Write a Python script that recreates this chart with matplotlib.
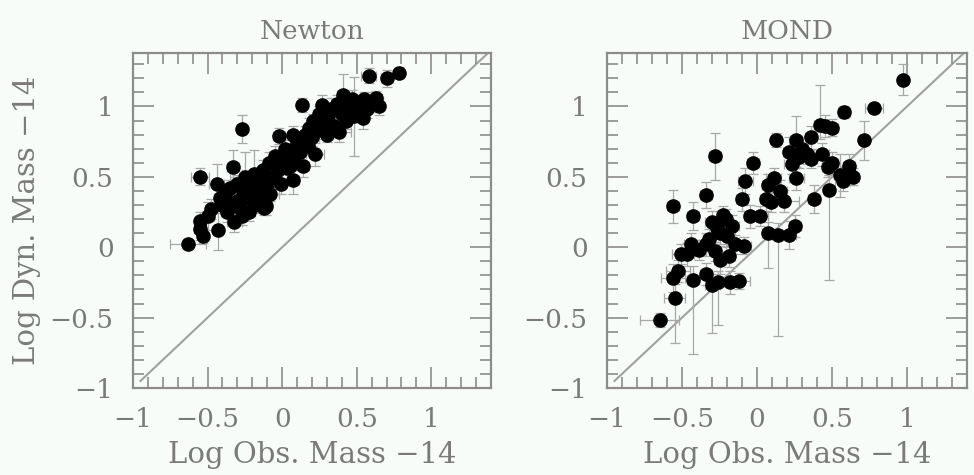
import numpy as np
import matplotlib
matplotlib.use("Agg")
import matplotlib.pyplot as plt
from matplotlib.ticker import MultipleLocator

# ---- data (log masses minus 14) ----
newton_x = [-0.63, -0.55, -0.55, -0.55, -0.53, -0.50, -0.48, -0.44, -0.43, -0.42,
            -0.40, -0.38, -0.37, -0.35, -0.33, -0.32, -0.30, -0.30, -0.28, -0.27,
            -0.26, -0.25, -0.24, -0.22, -0.21, -0.20, -0.19, -0.18, -0.17, -0.15,
            -0.14, -0.13, -0.12, -0.10, -0.09, -0.08, -0.06, -0.05, -0.03, -0.02,
            -0.01, 0.00, 0.02, 0.03, 0.05, 0.07, 0.07, 0.08, 0.10, 0.12,
            0.13, 0.14, 0.15, 0.17, 0.18, 0.20, 0.21, 0.22, 0.24, 0.25,
            0.27, 0.28, 0.30, 0.31, 0.33, 0.35, 0.37, 0.38, 0.40, 0.41,
            0.43, 0.45, 0.47, 0.48, 0.50, 0.52, 0.54, 0.55, 0.57, 0.58,
            0.60, 0.63, 0.65, 0.70, 0.78, -0.11, -0.35, -0.27, -0.16, 0.05]
newton_y = [0.02, 0.50, 0.13, 0.19, 0.08, 0.22, 0.27, 0.45, 0.12, 0.35,
            0.30, 0.38, 0.25, 0.42, 0.57, 0.18, 0.33, 0.45, 0.28, 0.84,
            0.40, 0.50, 0.35, 0.25, 0.45, 0.38, 0.52, 0.30, 0.42, 0.48,
            0.36, 0.55, 0.28, 0.44, 0.60, 0.38, 0.50, 0.65, 0.55, 0.79,
            0.45, 0.62, 0.70, 0.56, 0.67, 0.48, 0.80, 0.62, 0.74, 0.68,
            1.01, 0.58, 0.80, 0.72, 0.85, 0.78, 0.90, 0.66, 0.83, 0.95,
            1.01, 0.88, 0.80, 0.93, 0.98, 0.86, 1.02, 0.82, 0.95, 1.08,
            0.90, 1.00, 1.05, 0.93, 1.02, 0.97, 0.92, 1.05, 0.98, 1.22,
            1.03, 1.06, 1.00, 1.20, 1.24, 0.29, 0.30, 0.22, 0.34, 0.58]
newton_xerr = [0.12, 0.06, 0.04, 0.03, 0.03, 0.04, 0.03, 0.05, 0.03, 0.04,
               0.05, 0.03, 0.04, 0.03, 0.04, 0.05, 0.03, 0.04, 0.03, 0.03,
               0.05, 0.10, 0.03, 0.04, 0.03, 0.04, 0.08, 0.03, 0.04, 0.03,
               0.05, 0.03, 0.04, 0.03, 0.04, 0.06, 0.03, 0.04, 0.03, 0.04,
               0.03, 0.04, 0.03, 0.05, 0.03, 0.04, 0.03, 0.04, 0.03, 0.05,
               0.03, 0.04, 0.03, 0.04, 0.03, 0.05, 0.03, 0.06, 0.03, 0.04,
               0.03, 0.04, 0.03, 0.05, 0.03, 0.04, 0.03, 0.08, 0.03, 0.04,
               0.03, 0.04, 0.03, 0.04, 0.03, 0.04, 0.03, 0.04, 0.03, 0.05,
               0.03, 0.04, 0.03, 0.04, 0.03, 0.04, 0.03, 0.04, 0.03, 0.04]
newton_yerr = [0.03, 0.06, 0.08, 0.06, 0.05, 0.10, 0.07, 0.14, 0.14, 0.08,
               0.06, 0.05, 0.07, 0.06, 0.12, 0.07, 0.05, 0.06, 0.08, 0.10,
               0.06, 0.18, 0.05, 0.06, 0.07, 0.05, 0.17, 0.06, 0.05, 0.08,
               0.06, 0.07, 0.05, 0.06, 0.08, 0.05, 0.06, 0.07, 0.05, 0.06,
               0.07, 0.05, 0.06, 0.08, 0.05, 0.10, 0.06, 0.05, 0.07, 0.06,
               0.05, 0.08, 0.06, 0.05, 0.07, 0.06, 0.05, 0.08, 0.06, 0.05,
               0.07, 0.06, 0.05, 0.06, 0.08, 0.05, 0.06, 0.07, 0.05, 0.15,
               0.06, 0.05, 0.07, 0.28, 0.05, 0.06, 0.08, 0.05, 0.06, 0.05,
               0.07, 0.05, 0.06, 0.06, 0.04, 0.06, 0.05, 0.06, 0.05, 0.06]

mond_x = [0.975, 0.78, 0.58, 0.71, 0.42, 0.45, 0.50, 0.48, 0.14, -0.43,
          -0.30, -0.26, -0.55, -0.65, -0.56, -0.53, -0.34, -0.51, -0.56, -0.43,
          -0.34, -0.28, -0.44, -0.39, -0.34, -0.28, -0.25, -0.21, -0.17, -0.23,
          -0.15, -0.09, -0.19, -0.25, -0.18, -0.12, -0.05, 0.02, -0.10, -0.08,
          -0.03, 0.07, 0.11, 0.06, 0.09, 0.18, 0.125, 0.21, 0.26, 0.36,
          0.23, 0.28, 0.36, 0.43, 0.47, 0.26, 0.38, 0.07, 0.21, 0.25,
          0.55, 0.62, 0.61, 0.57, 0.64, -0.30, -0.27, -0.20, -0.32, -0.47,
          0.15, 0.30, 0.33, 0.50]
mond_y = [1.19, 0.99, 0.96, 0.76, 0.87, 0.86, 0.85, 0.41, 0.09, -0.23,
          -0.27, -0.25, -0.36, -0.52, -0.22, -0.17, -0.19, -0.05, 0.29, 0.22,
          0.37, 0.65, 0.02, -0.02, 0.02, -0.03, 0.10, 0.20, 0.15, 0.23,
          0.02, 0.01, -0.06, -0.09, -0.25, -0.24, 0.22, 0.22, 0.34, 0.47,
          0.60, 0.44, 0.49, 0.34, 0.32, 0.33, 0.76, 0.68, 0.76, 0.78,
          0.59, 0.64, 0.63, 0.66, 0.57, 0.49, 0.34, 0.10, 0.09, 0.15,
          0.51, 0.51, 0.58, 0.47, 0.50, 0.18, 0.14, 0.08, 0.06, -0.05,
          0.40, 0.70, 0.66, 0.60]
mond_xerr = [0.03, 0.06, 0.04, 0.03, 0.04, 0.03, 0.04, 0.03, 0.04, 0.04,
             0.05, 0.04, 0.07, 0.13, 0.08, 0.08, 0.04, 0.06, 0.04, 0.04,
             0.04, 0.04, 0.05, 0.04, 0.05, 0.04, 0.05, 0.04, 0.05, 0.04,
             0.06, 0.05, 0.04, 0.04, 0.04, 0.07, 0.04, 0.05, 0.04, 0.05,
             0.04, 0.04, 0.05, 0.04, 0.04, 0.10, 0.03, 0.04, 0.04, 0.04,
             0.05, 0.04, 0.04, 0.05, 0.04, 0.05, 0.04, 0.04, 0.05, 0.04,
             0.04, 0.04, 0.04, 0.05, 0.04, 0.05, 0.04, 0.05, 0.04, 0.05,
             0.05, 0.04, 0.04, 0.04]
mond_yerr_lo = [0.11, 0.03, 0.04, 0.14, 0.10, 0.08, 0.06, 0.64, 0.72, 0.53,
                0.34, 0.30, 0.32, 0.05, 0.10, 0.08, 0.08, 0.07, 0.12, 0.10,
                0.09, 0.17, 0.08, 0.07, 0.08, 0.07, 0.08, 0.07, 0.08, 0.06,
                0.07, 0.06, 0.08, 0.10, 0.08, 0.06, 0.08, 0.07, 0.08, 0.09,
                0.08, 0.08, 0.07, 0.08, 0.07, 0.08, 0.05, 0.10, 0.08, 0.08,
                0.07, 0.08, 0.07, 0.08, 0.07, 0.08, 0.10, 0.25, 0.10, 0.08,
                0.15, 0.07, 0.08, 0.07, 0.06, 0.08, 0.07, 0.08, 0.07, 0.08,
                0.08, 0.08, 0.07, 0.08]
mond_yerr_hi = [0.11, 0.03, 0.04, 0.14, 0.28, 0.08, 0.06, 0.10, 0.08, 0.10,
                0.08, 0.08, 0.10, 0.05, 0.10, 0.08, 0.08, 0.07, 0.12, 0.10,
                0.09, 0.16, 0.08, 0.07, 0.08, 0.07, 0.08, 0.07, 0.08, 0.06,
                0.07, 0.06, 0.08, 0.10, 0.08, 0.06, 0.08, 0.07, 0.08, 0.09,
                0.08, 0.08, 0.07, 0.08, 0.07, 0.08, 0.05, 0.10, 0.17, 0.08,
                0.07, 0.08, 0.07, 0.08, 0.07, 0.08, 0.10, 0.08, 0.10, 0.08,
                0.15, 0.07, 0.08, 0.07, 0.06, 0.08, 0.07, 0.08, 0.07, 0.08,
                0.08, 0.08, 0.07, 0.08]

diag = [-0.95, 1.42]   # the y = x line

BG = "#f8fcf8"
INK = "#7a7a7a"
FRAME = "#8c8c8c"

plt.rcParams["font.family"] = ["DejaVu Serif"]
plt.rcParams["text.color"] = INK
plt.rcParams["axes.labelcolor"] = INK
plt.rcParams["xtick.color"] = FRAME
plt.rcParams["ytick.color"] = FRAME
plt.rcParams["xtick.labelcolor"] = INK
plt.rcParams["ytick.labelcolor"] = INK

fig = plt.figure(figsize=(9.74, 4.75), dpi=100, facecolor=BG)
ax1 = fig.add_axes([133 / 974, 1 - 388 / 475, 358 / 974, 335 / 475])
ax2 = fig.add_axes([607 / 974, 1 - 388 / 475, 360 / 974, 335 / 475])


def draw_panel(ax, x, y, xerr, yerr, title):
    ax.set_facecolor(BG)
    ax.plot(diag, diag, color="#a0a0a0", lw=1.5, zorder=1)
    ax.errorbar(x, y, xerr=xerr, yerr=yerr, fmt="none", ecolor="#a8a8a8",
                elinewidth=0.9, capsize=3.5, capthick=0.9, zorder=2)
    ax.plot(x, y, "o", color="black", ms=9.5, zorder=3)
    ax.set_xlim(-1.0, 1.4)
    ax.set_ylim(-1.0, 1.38)
    ax.xaxis.set_major_locator(MultipleLocator(0.5))
    ax.xaxis.set_minor_locator(MultipleLocator(0.1))
    ax.yaxis.set_major_locator(MultipleLocator(0.5))
    ax.yaxis.set_minor_locator(MultipleLocator(0.1))
    ax.tick_params(which="both", direction="in", top=True, right=True,
                   labelsize=19, pad=14)
    ax.tick_params(which="major", length=15, width=1.2)
    ax.tick_params(which="minor", length=8, width=1.2)
    ax.xaxis.set_major_formatter(lambda v, p: f"{v:g}".replace("-", "\u2212"))
    ax.yaxis.set_major_formatter(lambda v, p: f"{v:g}".replace("-", "\u2212"))
    for s in ax.spines.values():
        s.set_color(FRAME)
        s.set_linewidth(1.6)
    ax.set_title(title, fontsize=19, color=INK, pad=10)
    ax.set_xlabel("Log Obs. Mass \u221214", fontsize=21, labelpad=6)


draw_panel(ax1, newton_x, newton_y, newton_xerr, newton_yerr, "Newton")
draw_panel(ax2, mond_x, mond_y, mond_xerr, [mond_yerr_lo, mond_yerr_hi], "MOND")
ax1.set_ylabel("Log Dyn. Mass \u221214", fontsize=21, labelpad=6)

fig.savefig("out.png", dpi=100, facecolor=BG)
